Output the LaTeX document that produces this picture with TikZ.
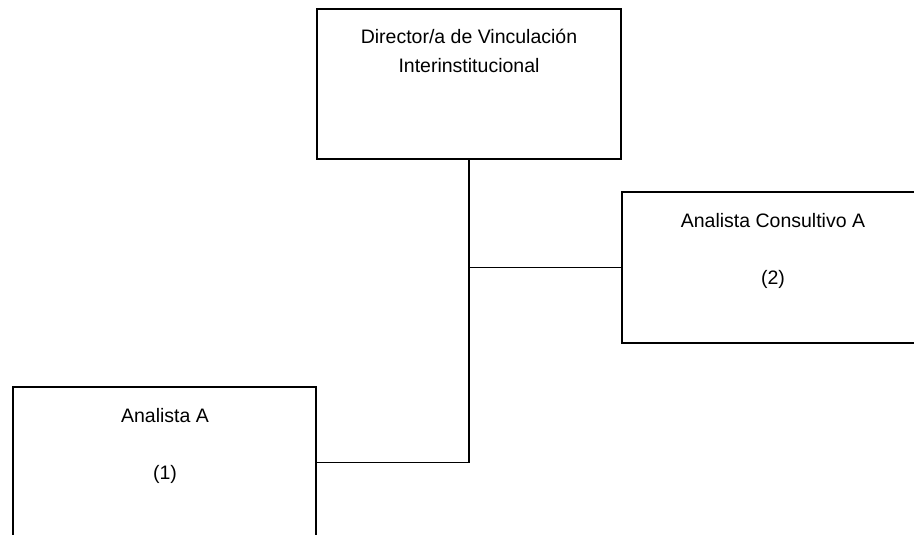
\documentclass[tikz,border=0pt]{standalone}
\usepackage{fontspec}
\setmainfont{Liberation Sans}
\begin{document}
\begin{tikzpicture}[x=1pt,y=-1pt,
  box/.style={draw,line width=1.6pt,minimum height=150pt,inner sep=0pt},
  lbl/.style={anchor=base,font=\fontsize{19.5}{28.5}\selectfont,inner sep=0pt},
  conn/.style={line width=1.6pt}]
\useasboundingbox (0,0) rectangle (914,535);
\clip (0,0) rectangle (914,535);
\node[box,minimum width=304pt] (dir) at (469,84) {};
\node[box,minimum width=304pt,minimum height=151pt] (der) at (774,267.5) {};
\node[box,minimum width=303pt,minimum height=151pt] (izq) at (164.5,462.5) {};
\node[lbl] (dir1) at (469,44) {Director/a de Vinculación};
\node[lbl] (dir2) at (469,72.5) {Interinstitucional};
\node[lbl] (der1) at (773,227) {Analista Consultivo A};
\node[lbl] (der2) at (773,284) {(2)};
\node[lbl] (izq1) at (165,422) {Analista A};
\node[lbl] (izq2) at (165,479) {(1)};
\draw[conn] (dir.south) -- (dir.south |- izq.east) -- (izq.east);
\draw[conn] (dir.south |- der.west) -- (der.west);
\end{tikzpicture}
\end{document}
